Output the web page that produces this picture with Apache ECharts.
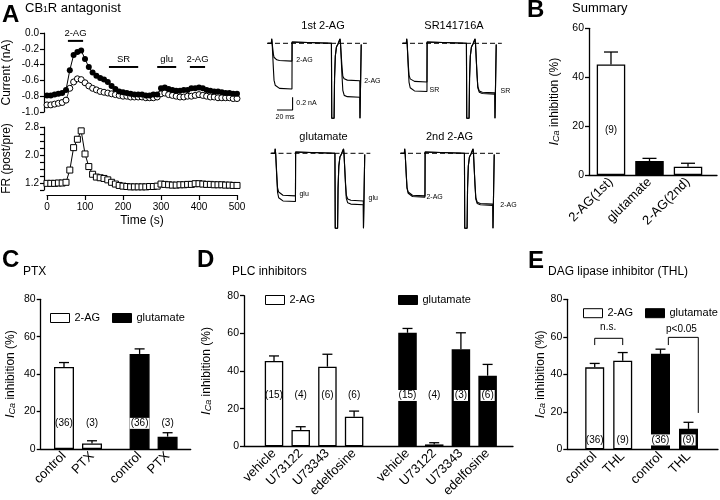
<!DOCTYPE html>
<html><head><meta charset="utf-8">
<script src="https://cdn.jsdelivr.net/npm/echarts@6/dist/echarts.min.js"></script>
<style>html,body{margin:0;padding:0;background:#fff}#c{width:720px;height:500px}</style>
</head><body><div id="c"></div>
<script>
const FONT = 'Liberation Sans, Arial, sans-serif';

// ---------- Panel A : time course ----------
const timeS = [0,10,20,30,40,50,60,70,80,90,100,110,120,130,140,150,160,170,180,190,200,210,220,230,240,250,260,270,280,290,300,310,320,330,340,350,360,370,380,390,400,410,420,430,440,450,460,470,480,490,500];
const currentFilled = [-0.79,-0.79,-0.78,-0.77,-0.76,-0.72,-0.47,-0.28,-0.24,-0.22,-0.33,-0.43,-0.50,-0.54,-0.57,-0.59,-0.62,-0.67,-0.71,-0.74,-0.75,-0.76,-0.77,-0.78,-0.78,-0.78,-0.79,-0.79,-0.78,-0.78,-0.70,-0.69,-0.71,-0.72,-0.73,-0.73,-0.72,-0.72,-0.70,-0.70,-0.69,-0.70,-0.72,-0.73,-0.74,-0.74,-0.75,-0.76,-0.76,-0.77,-0.77];
const currentOpen = [-0.91,-0.91,-0.90,-0.89,-0.88,-0.85,-0.70,-0.62,-0.58,-0.59,-0.63,-0.67,-0.70,-0.72,-0.74,-0.75,-0.76,-0.77,-0.78,-0.79,-0.80,-0.80,-0.81,-0.81,-0.81,-0.81,-0.82,-0.82,-0.82,-0.81,-0.77,-0.76,-0.78,-0.79,-0.80,-0.81,-0.81,-0.80,-0.80,-0.79,-0.78,-0.79,-0.80,-0.81,-0.81,-0.82,-0.82,-0.82,-0.82,-0.83,-0.83];
const frRatio = [1.19,1.19,1.19,1.20,1.20,1.22,1.57,2.21,2.45,2.69,2.03,1.67,1.45,1.37,1.35,1.33,1.29,1.22,1.17,1.13,1.11,1.10,1.09,1.09,1.09,1.09,1.09,1.10,1.10,1.11,1.17,1.16,1.15,1.14,1.14,1.15,1.15,1.16,1.16,1.18,1.18,1.17,1.16,1.16,1.15,1.15,1.15,1.14,1.14,1.13,1.13];
const drugNames = ['2-AG','SR','glu','2-AG'];
const drugStart = [55,163,290,376];
const drugEnd = [95,240,340,416];
const drugLevel = [-0.10,-0.43,-0.43,-0.43];

// ---------- Panel A : example traces (ms, nA) ----------
const traceT = [1,5.6,6.0,6.6,7.6,8.2,9.0,10.5,12.5,16,32,32.2,32.8,82.6,83.0,86.0,86.6,87.6,89.0,91.0,93.2,93.6,94.2,95.6,96.2,97.2,99,103,119,119.2,120.2,120.8];
const tr1Ctrl = [0,0,0.07,0,0,-0.40,-0.58,-0.66,-0.69,-0.71,-0.72,0.02,0,0,-1.18,-1.18,-0.55,-0.20,-0.06,-0.01,0,0.07,0,0,-0.52,-0.74,-0.82,-0.84,-0.85,-1.18,-1.18,-0.02];
const tr1Drug = [0,0,0.07,0,0,-0.17,-0.22,-0.25,-0.26,-0.27,-0.28,0.02,0,0,-1.18,-1.18,-0.55,-0.20,-0.06,-0.01,0,0.07,0,0,-0.38,-0.52,-0.56,-0.58,-0.59,-1.18,-1.18,-0.02];
const tr2Ctrl = [0,0,0.07,0,0,-0.42,-0.61,-0.70,-0.73,-0.75,-0.76,0.02,0,0,-1.18,-1.18,-0.55,-0.20,-0.06,-0.01,0,0.07,0,0,-0.50,-0.70,-0.77,-0.79,-0.80,-1.18,-1.18,-0.02];
const tr2Drug = [0,0,0.07,0,0,-0.36,-0.50,-0.56,-0.58,-0.60,-0.61,0.02,0,0,-1.18,-1.18,-0.55,-0.20,-0.06,-0.01,0,0.07,0,0,-0.49,-0.68,-0.75,-0.77,-0.78,-1.18,-1.18,-0.02];
const tr3Ctrl = [0,0,0.07,0,0,-0.42,-0.61,-0.70,-0.73,-0.75,-0.76,0.02,0,0,-1.18,-1.18,-0.55,-0.20,-0.06,-0.01,0,0.07,0,0,-0.50,-0.71,-0.78,-0.80,-0.81,-1.18,-1.18,-0.02];
const tr3Drug = [0,0,0.07,0,0,-0.37,-0.54,-0.61,-0.64,-0.66,-0.67,0.02,0,0,-1.18,-1.18,-0.55,-0.20,-0.06,-0.01,0,0.07,0,0,-0.47,-0.66,-0.72,-0.74,-0.75,-1.18,-1.18,-0.02];
const tr4Ctrl = [0,0,0.07,0,0,-0.38,-0.55,-0.63,-0.66,-0.68,-0.69,0.02,0,0,-1.18,-1.18,-0.55,-0.20,-0.06,-0.01,0,0.07,0,0,-0.51,-0.72,-0.79,-0.81,-0.82,-1.18,-1.18,-0.02];
const tr4Drug = [0,0,0.07,0,0,-0.37,-0.54,-0.61,-0.64,-0.66,-0.67,0.02,0,0,-1.18,-1.18,-0.55,-0.20,-0.06,-0.01,0,0.07,0,0,-0.50,-0.70,-0.77,-0.79,-0.80,-1.18,-1.18,-0.02];
const traceTitles = ['1st 2-AG','SR141716A','glutamate','2nd 2-AG'];
const traceLabel = ['2-AG','SR','glu','2-AG'];

// ---------- Panel B ----------
const bCats = ['2-AG(1st)','glutamate','2-AG(2nd)'];
const bMean = [45.2, 5.7, 3.4];
const bSem = [5.1, 1.1, 1.4];
const bN = [9];

// ---------- Panel C ----------
const cCats = ['control','PTX','control','PTX'];
const c2agMean = [43.8, 3.0], c2agSem = [2.4, 1.4], c2agN = [36, 3];
const cGluMean = [50.8, 6.6], cGluSem = [2.7, 2.1], cGluN = [36, 3];

// ---------- Panel D ----------
const dCats = ['vehicle','U73122','U73343','edelfosine','vehicle','U73122','U73343','edelfosine'];
const d2agMean = [45.3, 8.7, 42.3, 15.7], d2agSem = [2.7, 1.7, 6.6, 3.0], d2agN = [15, 4, 6, 6];
const dGluMean = [60.3, 1.0, 51.5, 37.5], dGluSem = [2.3, 0.9, 8.8, 6.0], dGluN = [15, 4, 3, 6];

// ---------- Panel E ----------
const eCats = ['control','THL','control','THL'];
const e2agMean = [43.7, 47.2], e2agSem = [2.1, 4.4], e2agN = [36, 9];
const eGluMean = [50.9, 10.9], eGluSem = [2.5, 3.5], eGluN = [36, 9];

// ---------- layout helpers ----------
const grids = [], xAxes = [], yAxes = [], series = [], graphics = [];
function addGrid(l, t, w, h) { grids.push({left: l, top: t, width: w, height: h, containLabel: false, outerBoundsMode: 'none'}); return grids.length - 1; }
const axLine = {show: true, onZero: false, lineStyle: {color: '#000', width: 1.2}};
const axTick = {show: true, length: 4, lineStyle: {color: '#000', width: 1.2}};
const lbl = (o) => Object.assign({color: '#000', fontFamily: FONT, fontSize: 10.5}, o || {});
const icaName = '{i|I}{s|Ca}{t| inhibition (%)}';
const icaRich = {
  i: {fontSize: 13, fontStyle: 'italic', fontFamily: FONT, color: '#000'},
  s: {fontSize: 9, fontStyle: 'italic', fontFamily: FONT, color: '#000', verticalAlign: 'bottom', lineHeight: 5},
  t: {fontSize: 12, fontFamily: FONT, color: '#000'}
};
const hidden = {color: 'rgba(0,0,0,0)', opacity: 1};
function txt(x, y, text, size, o) {
  graphics.push({type: 'text', x: x, y: y, silent: true, style: Object.assign({text: text, fontSize: size, fontFamily: FONT, fill: '#000', align: 'left', verticalAlign: 'middle'}, o || {})});
}
function textPoints(gi, pts, names, size, pos, extra) {
  series.push({type: 'scatter', xAxisIndex: gi, yAxisIndex: gi, symbolSize: 1, itemStyle: hidden, silent: true,
    data: pts, label: Object.assign({show: true, position: pos, distance: 0, color: '#000', fontFamily: FONT, fontSize: size, formatter: p => names[p.dataIndex]}, extra || {})});
}

// ---------- Panel A top ----------
let gi = addGrid(47, 33, 190, 79);
xAxes.push({gridIndex: gi, type: 'value', min: 0, max: 500, show: false});
yAxes.push({gridIndex: gi, type: 'value', min: -1, max: 0, interval: 0.2, offset: 3, axisLine: axLine, axisTick: axTick,
  axisLabel: lbl({fontSize: 10, margin: 5, formatter: v => v.toFixed(1)}), splitLine: {show: false},
  name: 'Current (nA)', nameLocation: 'middle', nameGap: 31, nameTextStyle: {fontSize: 12, color: '#000', fontFamily: FONT}});
series.push({type: 'line', xAxisIndex: gi, yAxisIndex: gi, data: timeS.map((t, i) => [t, currentOpen[i]]), symbol: 'circle', symbolSize: 6, showSymbol: true,
  itemStyle: {color: '#fff', borderColor: '#000', borderWidth: 1}, lineStyle: {color: '#000', width: 0.8}, silent: true});
series.push({type: 'line', xAxisIndex: gi, yAxisIndex: gi, data: timeS.map((t, i) => [t, currentFilled[i]]), symbol: 'circle', symbolSize: 6, showSymbol: true,
  itemStyle: {color: '#000', borderColor: '#000', borderWidth: 0}, lineStyle: {color: '#000', width: 1}, silent: true});
drugNames.forEach((n, i) => {
  series.push({type: 'line', xAxisIndex: gi, yAxisIndex: gi, data: [[drugStart[i], drugLevel[i]], [drugEnd[i], drugLevel[i]]], symbol: 'none', lineStyle: {color: '#000', width: 2}, silent: true, clip: false});
});
textPoints(gi, drugNames.map((n, i) => [(drugStart[i] + drugEnd[i]) / 2, drugLevel[i]]), drugNames, 9.5, 'top', {distance: 2});

// ---------- Panel A bottom ----------
gi = addGrid(47, 127, 190, 63);
xAxes.push({gridIndex: gi, type: 'value', min: 0, max: 500, interval: 100, offset: 5, axisLine: axLine, axisTick: {show: true, length: 5, lineStyle: {color: '#000', width: 1.2}},
  axisLabel: lbl({fontSize: 10, margin: 7}), splitLine: {show: false},
  name: 'Time (s)', nameLocation: 'middle', nameGap: 20, nameTextStyle: {fontSize: 12, color: '#000', fontFamily: FONT}});
yAxes.push({gridIndex: gi, type: 'value', min: 1.0, max: 2.8, interval: 0.2, offset: 3, axisLine: axLine, axisTick: axTick,
  axisLabel: lbl({fontSize: 10, margin: 5, customValues: [1.2, 2.0, 2.8], formatter: v => v.toFixed(1)}), splitLine: {show: false},
  name: 'FR (post/pre)', nameLocation: 'middle', nameGap: 31, nameTextStyle: {fontSize: 12, color: '#000', fontFamily: FONT}});
series.push({type: 'line', xAxisIndex: gi, yAxisIndex: gi, data: timeS.map((t, i) => [t, frRatio[i]]), symbol: 'rect', symbolSize: 6, showSymbol: true,
  itemStyle: {color: '#fff', borderColor: '#000', borderWidth: 1}, lineStyle: {color: '#000', width: 1}, silent: true});

// ---------- Panel A traces ----------
const traceCtrl = [tr1Ctrl, tr2Ctrl, tr3Ctrl, tr4Ctrl];
const traceDrug = [tr1Drug, tr2Drug, tr3Drug, tr4Drug];
const traceBox = [[267, 36.95], [402, 36.95], [270.5, 146.95], [400, 146.95]];
const lblPts = [[[37, -0.26], [124, -0.59]], [[34.6, -0.74], [125.6, -0.75]], [[36.5, -0.64], [125, -0.70]], [[33.3, -0.69], [128, -0.81]]];
traceBox.forEach((b, p) => {
  const g = addGrid(b[0], b[1], 128 * 0.78, 1.3 * 63.5);
  xAxes.push({gridIndex: g, type: 'value', min: 0, max: 128, show: false});
  yAxes.push({gridIndex: g, type: 'value', min: -1.2, max: 0.1, show: false});
  series.push({type: 'line', xAxisIndex: g, yAxisIndex: g, data: [[0, 0], [128, 0]], symbol: 'none', lineStyle: {color: '#000', width: 1, type: [5, 3]}, silent: true, clip: false});
  series.push({type: 'line', xAxisIndex: g, yAxisIndex: g, data: traceT.map((t, i) => [t, traceCtrl[p][i]]), symbol: 'none', lineStyle: {color: '#000', width: 1.1}, silent: true, clip: false});
  series.push({type: 'line', xAxisIndex: g, yAxisIndex: g, data: traceT.map((t, i) => [t, traceDrug[p][i]]), symbol: 'none', lineStyle: {color: '#000', width: 1.1}, silent: true, clip: false});
  textPoints(g, lblPts[p], [traceLabel[p], traceLabel[p]], 7, 'right');
  if (p === 0) {
    series.push({type: 'line', xAxisIndex: g, yAxisIndex: g, data: [[12.8, -1.05], [32.8, -1.05], [32.8, -0.85]], symbol: 'none', lineStyle: {color: '#000', width: 1.1}, silent: true, clip: false});
    textPoints(g, [[37, -0.94], [10.3, -1.16]], ['0.2 nA', '20 ms'], 7, 'right');
  }
});

// ---------- bar panel helper ----------
function errItem(cap) {
  return function (params, api) {
    const x = api.value(0), m = api.value(1), e = api.value(2);
    const a = api.coord([x, m]), b = api.coord([x, m + e]);
    const st = {stroke: '#000', lineWidth: 1.3, fill: null};
    return {type: 'group', children: [
      {type: 'line', shape: {x1: a[0], y1: a[1], x2: b[0], y2: b[1]}, style: st},
      {type: 'line', shape: {x1: b[0] - cap, y1: b[1], x2: b[0] + cap, y2: b[1]}, style: st}
    ]};
  };
}
function barPanel(c) {
  const g = addGrid(c.l, c.t, c.w, c.h);
  xAxes.push({gridIndex: g, type: 'value', min: c.xmin, max: c.xmax, axisLine: {show: true, onZero: false, lineStyle: {color: '#000', width: 1.3}}, axisTick: {show: false}, splitLine: {show: false},
    axisLabel: lbl({fontSize: 13, rotate: 45, margin: 5, customValues: c.pos.slice(), formatter: v => c.cats[c.pos.indexOf(v)]})});
  yAxes.push({gridIndex: g, type: 'value', min: 0, max: c.ymax, interval: 20, axisLine: {show: true, onZero: false, lineStyle: {color: '#000', width: 1.3}}, axisTick: {show: true, length: 4, lineStyle: {color: '#000', width: 1.3}},
    axisLabel: lbl({margin: 5}), splitLine: {show: false},
    name: icaName, nameLocation: 'middle', nameGap: c.nameGap, nameTextStyle: {color: '#000', fontFamily: FONT, fontSize: 12, rich: icaRich}});
  c.groups.forEach(gr => {
    series.push({type: 'bar', name: gr.name, xAxisIndex: g, yAxisIndex: g, barWidth: c.bw, barGap: '-100%', silent: true,
      data: gr.idx.map((k, i) => [c.pos[k], gr.mean[i]]),
      itemStyle: {color: gr.fill, borderColor: '#000', borderWidth: 1.3}});
    series.push({type: 'custom', xAxisIndex: g, yAxisIndex: g, silent: true, z: 3, encode: {x: 0, y: 1},
      data: gr.idx.map((k, i) => [c.pos[k], gr.mean[i], gr.sem[i]]), renderItem: errItem(c.cap)});
    if (gr.n) {
      series.push({type: 'scatter', xAxisIndex: g, yAxisIndex: g, symbolSize: 1, itemStyle: hidden, silent: true, z: 4,
        data: gr.n.map((n, i) => [c.pos[gr.idx[i]], c.nY]),
        label: {show: true, position: 'inside', color: '#000', fontFamily: FONT, fontSize: 10,
          backgroundColor: gr.fill === '#000' ? '#fff' : 'transparent', padding: [1, 1, 0, 1],
          formatter: p => '(' + gr.n[p.dataIndex] + ')'}});
    }
  });
  return g;
}

// ---------- Panel B ----------
barPanel({l: 589, t: 28.3, w: 128, h: 146.7, xmin: -0.571, xmax: 2.753, ymax: 60, pos: [0, 1, 2], cats: bCats, bw: 28.5, cap: 7, nY: 18.4, nameGap: 28,
  groups: [
    {name: 'summaryW', fill: '#fff', idx: [0, 2], mean: [bMean[0], bMean[2]], sem: [bSem[0], bSem[2]], n: bN},
    {name: 'summaryB', fill: '#000', idx: [1], mean: [bMean[1]], sem: [bSem[1]]}
  ]});

// ---------- Panel C ----------
barPanel({l: 40.7, t: 299.3, w: 150, h: 149.7, xmin: -0.832, xmax: 4.525, ymax: 80, pos: [0, 1, 2.7, 3.7], cats: cCats, bw: 20, cap: 5, nY: 13.7, nameGap: 24,
  groups: [
    {name: '2-AG', fill: '#fff', idx: [0, 1], mean: c2agMean, sem: c2agSem, n: c2agN},
    {name: 'glutamate', fill: '#000', idx: [2, 3], mean: cGluMean, sem: cGluSem, n: cGluN}
  ]});

// ---------- Panel D ----------
barPanel({l: 244, t: 295.7, w: 269, h: 150.6, xmin: -1.124, xmax: 8.951, ymax: 80, pos: [0, 1, 2, 3, 5, 6, 7, 8], cats: dCats, bw: 18.5, cap: 5, nY: 27, nameGap: 31,
  groups: [
    {name: '2-AG', fill: '#fff', idx: [0, 1, 2, 3], mean: d2agMean, sem: d2agSem, n: d2agN},
    {name: 'glutamate', fill: '#000', idx: [4, 5, 6, 7], mean: dGluMean, sem: dGluSem, n: dGluN}
  ]});

// ---------- Panel E ----------
const gE = barPanel({l: 567.3, t: 299.3, w: 150.7, h: 150, xmin: -0.979, xmax: 4.404, ymax: 80, pos: [0, 1, 2.35, 3.35], cats: eCats, bw: 19, cap: 5, nY: 5, nameGap: 16,
  groups: [
    {name: '2-AG', fill: '#fff', idx: [0, 1], mean: e2agMean, sem: e2agSem, n: e2agN},
    {name: 'glutamate', fill: '#000', idx: [2, 3], mean: eGluMean, sem: eGluSem, n: eGluN}
  ]});
series.push({type: 'line', xAxisIndex: gE, yAxisIndex: gE, data: [[0, 55.6], [0, 59.2], [1, 59.2], [1, 55.6]], symbol: 'none', lineStyle: {color: '#000', width: 1}, silent: true, clip: false});
series.push({type: 'line', xAxisIndex: gE, yAxisIndex: gE, data: [[2.63, 55.6], [2.63, 59.7], [3.7, 59.7], [3.7, 19.4]], symbol: 'none', lineStyle: {color: '#000', width: 1}, silent: true, clip: false});
textPoints(gE, [[0.48, 65.2], [3.1, 64.1]], ['n.s.', 'p<0.05'], 10, 'inside');

// ---------- legends (one per item) ----------
function leg(name, left, top) {
  return {data: [name], left: left, top: top, itemWidth: 19, itemHeight: 9, icon: 'rect', padding: 0, selectedMode: false,
    itemStyle: {borderWidth: 1, borderColor: '#000'},
    textStyle: {fontSize: 11, color: '#000', fontFamily: FONT}};
}
const legends = [
  leg('2-AG', 50, 312.5), leg('glutamate', 112, 312.5),
  leg('2-AG', 265, 294.5), leg('glutamate', 398, 294.5),
  leg('2-AG', 583, 307.7), leg('glutamate', 645, 307.7)
];

// ---------- panel letters & titles ----------
const bold = {fontWeight: 'bold'};
txt(2, 15, 'A', 24, bold);
txt(25, 8, '{a|CB}{s|1}{a|R antagonist}', 13, {rich: {a: {fontSize: 13, fontFamily: FONT, fill: '#000'}, s: {fontSize: 8.5, fontFamily: FONT, fill: '#000', verticalAlign: 'bottom', lineHeight: 5}}});
txt(527, 10, 'B', 24, bold);
txt(572, 8, 'Summary', 13);
txt(2, 260, 'C', 24, bold);
txt(23, 272, 'PTX', 12);
txt(197, 260, 'D', 24, bold);
txt(232, 272, 'PLC inhibitors', 12);
txt(528, 261, 'E', 24, bold);
txt(548, 272, 'DAG lipase inhibitor (THL)', 12);
const titlePos = [[323, 26], [454, 26], [323.5, 137], [449.5, 137]];
traceTitles.forEach((t, i) => txt(titlePos[i][0], titlePos[i][1], t, 11, {align: 'center'}));

const chart = echarts.init(document.getElementById('c'), null, {renderer: 'canvas', width: 720, height: 500});
chart.setOption({
  animation: false,
  backgroundColor: '#fff',
  textStyle: {fontFamily: FONT},
  grid: grids, xAxis: xAxes, yAxis: yAxes, series: series, legend: legends, graphic: graphics
});
</script>
</body></html>
